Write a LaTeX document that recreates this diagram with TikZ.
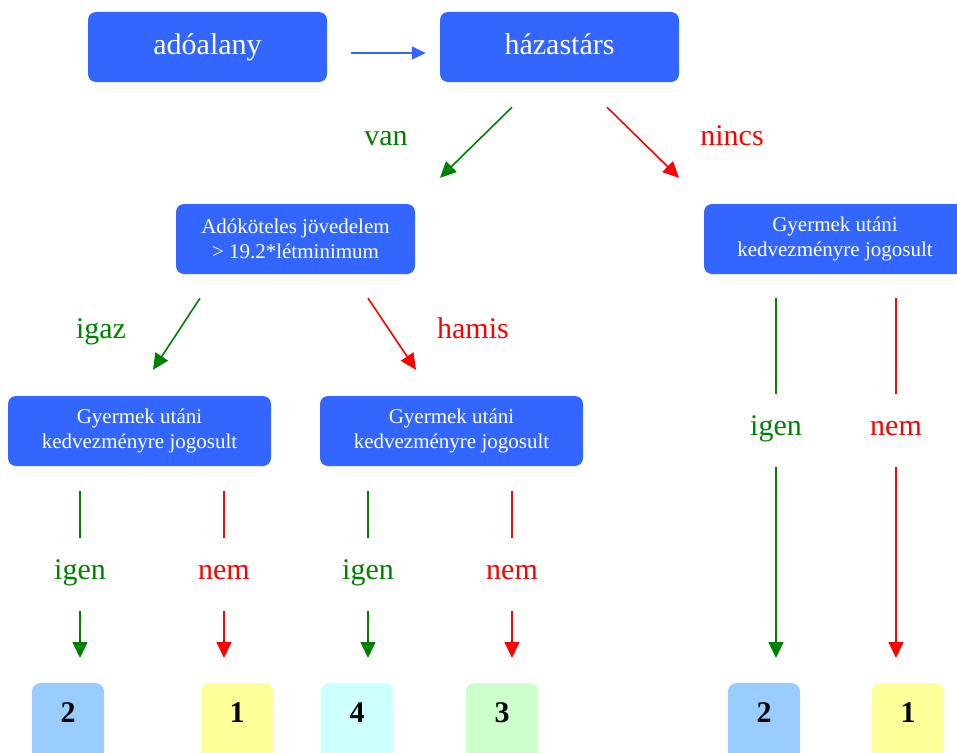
\documentclass[tikz,border=0pt]{standalone}
\usepackage{fontspec}
\setmainfont{Liberation Serif}
\usetikzlibrary{arrows.meta,calc}

\definecolor{boxblue}{HTML}{3366FF}
\definecolor{okgreen}{HTML}{008000}
\definecolor{okred}{HTML}{FF0000}
\definecolor{numblue}{HTML}{99CCFF}
\definecolor{numyellow}{HTML}{FFFF99}
\definecolor{numcyan}{HTML}{CCFFFF}
\definecolor{numgreen}{HTML}{CCFFCC}

\begin{document}
\begin{tikzpicture}[x=1pt,y=-1pt,
    bigbox/.style={fill=boxblue,rounded corners=8pt,text=white,inner sep=0pt,
      minimum width=239pt,minimum height=70pt,font=\fontsize{30}{36}\selectfont},
    topbox/.style={bigbox,text height=22pt,text depth=7pt},
    smallbox/.style={bigbox,align=center,font=\fontsize{21}{25}\selectfont},
    numbox/.style={rounded corners=8pt,anchor=north,inner sep=0pt,minimum width=72pt,
      text height=39pt,text depth=40pt,font=\fontsize{30}{36}\selectfont\bfseries},
    branchtext/.style={anchor=base,inner sep=0pt,font=\fontsize{30}{36}\selectfont},
    gline/.style={draw=okgreen,line width=1.6pt},
    rline/.style={draw=okred,line width=1.6pt},
    garrow/.style={gline,-{Triangle[length=16pt,width=15pt]}},
    rarrow/.style={rline,-{Triangle[length=16pt,width=15pt]}},
    bluearrow/.style={draw=boxblue,line width=1.5pt,-{Triangle[length=14pt,width=13pt]}}]

        \useasboundingbox (0,0) rectangle (957,752);
        \clip (0,0) rectangle (957,752);

        \node[topbox] (adoalany)  at (207.5,47) {adóalany};
        \node[topbox] (hazastars) at (559.5,47) {házastárs};
        \node[smallbox] (adokot) at (295.5,239) {Adóköteles jövedelem\\> 19.2*létminimum};
        \node[smallbox,minimum width=263pt] (gyA) at (139.5,431) {Gyermek utáni\\kedvezményre jogosult};
        \node[smallbox,minimum width=263pt] (gyB) at (451.5,431) {Gyermek utáni\\kedvezményre jogosult};
        \node[smallbox,minimum width=262pt] (gyC) at (835,239)   {Gyermek utáni\\kedvezményre jogosult};

        \node[numbox,fill=numblue]   (nA2) at (68,683)  {2};
        \node[numbox,fill=numyellow] (nA1) at (237,683) {1};
        \node[numbox,fill=numcyan]   (nB4) at (357,683) {4};
        \node[numbox,fill=numgreen]  (nB3) at (502,683) {3};
        \node[numbox,fill=numblue]   (nC2) at (764,683) {2};
        \node[numbox,fill=numyellow] (nC1) at (908,683) {1};

        \begin{scope}[every node/.style={branchtext}]
          \node[text=okgreen] (van)   at (386,145) {van};
          \node[text=okred]   (nincs) at (732,145) {nincs};
          \node[text=okgreen] (igaz)  at (101,338) {igaz};
          \node[text=okred]   (hamis) at (473,338) {hamis};
          \node[text=okgreen] (igenA) at (80,579)  {igen};
          \node[text=okred]   (nemA)  at (224,579) {nem};
          \node[text=okgreen] (igenB) at (368,579) {igen};
          \node[text=okred]   (nemB)  at (512,579) {nem};
          \node[text=okgreen] (igenC) at (776,435) {igen};
          \node[text=okred]   (nemC)  at (896,435) {nem};
        \end{scope}

        \draw[bluearrow,shorten <=24pt,shorten >=14pt] ([yshift=-6pt]adoalany.east) -- ([yshift=-6pt]hazastars.west);

        \draw[garrow] ($(hazastars.south)+(-47.5,25)$) -- ($(adokot.north)+(144.5,-26)$);
        \draw[rarrow] ($(hazastars.south)+(47.5,25)$)  -- ($(gyC.north)+(-156,-26)$);
        \draw[garrow] ($(adokot.south)+(-95.5,24)$)    -- ($(gyA.north)+(13.5,-26)$);
        \draw[rarrow] ($(adokot.south)+(72.5,24)$)     -- ($(gyB.north)+(-35.5,-26)$);

        \draw[gline,shorten <=25pt,shorten >=41pt] (gyA.south -| igenA.base) -- (igenA.base);
        \draw[garrow,shorten <=32pt,shorten >=25pt] (igenA.base) -- (igenA.base |- nA2.north);
        \draw[rline,shorten <=25pt,shorten >=41pt] (gyA.south -| nemA.base) -- (nemA.base);
        \draw[rarrow,shorten <=32pt,shorten >=25pt] (nemA.base) -- (nemA.base |- nA1.north);
        \draw[gline,shorten <=25pt,shorten >=41pt] (gyB.south -| igenB.base) -- (igenB.base);
        \draw[garrow,shorten <=32pt,shorten >=25pt] (igenB.base) -- (igenB.base |- nB4.north);
        \draw[rline,shorten <=25pt,shorten >=41pt] (gyB.south -| nemB.base) -- (nemB.base);
        \draw[rarrow,shorten <=32pt,shorten >=25pt] (nemB.base) -- (nemB.base |- nB3.north);
        \draw[gline,shorten <=24pt,shorten >=41pt] (gyC.south -| igenC.base) -- (igenC.base);
        \draw[garrow,shorten <=32pt,shorten >=25pt] (igenC.base) -- (igenC.base |- nC2.north);
        \draw[rline,shorten <=24pt,shorten >=41pt] (gyC.south -| nemC.base) -- (nemC.base);
        \draw[rarrow,shorten <=32pt,shorten >=25pt] (nemC.base) -- (nemC.base |- nC1.north);

      \end{tikzpicture}
\end{document}
